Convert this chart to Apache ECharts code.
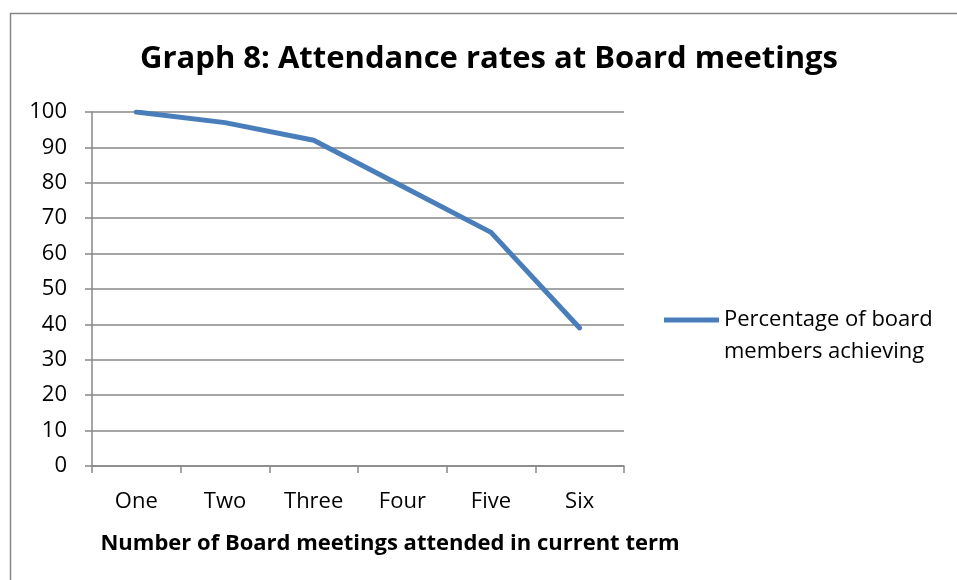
<!DOCTYPE html>
<html>
<head>
<meta charset="utf-8">
<script src="https://cdn.jsdelivr.net/npm/echarts@6/dist/echarts.min.js"></script>
<style>
  html, body { margin: 0; padding: 0; background: #fff; }
  #chart { width: 957px; height: 580px; }
</style>
</head>
<body>
<div id="chart"></div>
<script>
// categories and values
const categories = ["One", "Two", "Three", "Four", "Five", "Six"];
const percentAchieving = [100, 97, 92, 79, 66, 39];
const seriesName = "Percentage of board\nmembers achieving";

const font = "'Open Sans', Lato, sans-serif";
const chart = echarts.init(document.getElementById("chart"));

chart.setOption({
  animation: false,
  textStyle: { fontFamily: font },
  title: {
    text: "Graph 8: Attendance rates at Board meetings",
    left: 484,
    top: 39,
    textAlign: "center",
    textStyle: { fontSize: 31, fontWeight: "bold", color: "#000", fontFamily: font }
  },
  graphic: [
    {
      // chart frame (only top and left edges fall inside the picture)
      type: "rect",
      shape: { x: 10.5, y: 13.5, width: 1000, height: 1000 },
      style: { fill: "none", stroke: "#878787", lineWidth: 1.5 }
    }
  ],
  legend: {
    left: 659,
    top: 299,
    orient: "vertical",
    itemWidth: 55,
    itemHeight: 37,
    textStyle: { fontSize: 22, color: "#000", lineHeight: 32, fontFamily: font },
    // bar at the top of a taller (empty) box so it sits level with the first text line
    data: [{ name: seriesName, icon: "path://M0,0H55V5H0Z M0,37H55V37H0Z" }]
  },
  grid: { left: 92, right: 333, top: 112, bottom: 114 },
  xAxis: {
    type: "category",
    data: categories,
    boundaryGap: true,
    name: "Number of Board meetings attended in current term",
    nameLocation: "middle",
    nameGap: 67,
    nameTextStyle: { fontSize: 22, fontWeight: "bold", color: "#000", padding: [0, 0, 0, 64], fontFamily: font },
    axisLine: { lineStyle: { color: "#878787", width: 1.5 } },
    axisTick: { show: true, length: 7, inside: false, lineStyle: { color: "#878787", width: 1.5 } },
    axisLabel: { fontSize: 22, color: "#000", margin: 25 }
  },
  yAxis: {
    type: "value",
    min: 0,
    max: 100,
    interval: 10,
    axisLine: { show: true, lineStyle: { color: "#878787", width: 1.5 } },
    axisTick: { show: true, length: 7, lineStyle: { color: "#878787", width: 1.5 } },
    splitLine: { lineStyle: { color: "#878787", width: 1.5 } },
    axisLabel: { fontSize: 22, color: "#000", margin: 25 }
  },
  series: [
    {
      name: seriesName,
      type: "line",
      data: percentAchieving,
      symbol: "none",
      lineStyle: { color: "#4a7ebb", width: 5, cap: "round", join: "round" },
      itemStyle: { color: "#4a7ebb" }
    }
  ]
});
</script>
</body>
</html>
